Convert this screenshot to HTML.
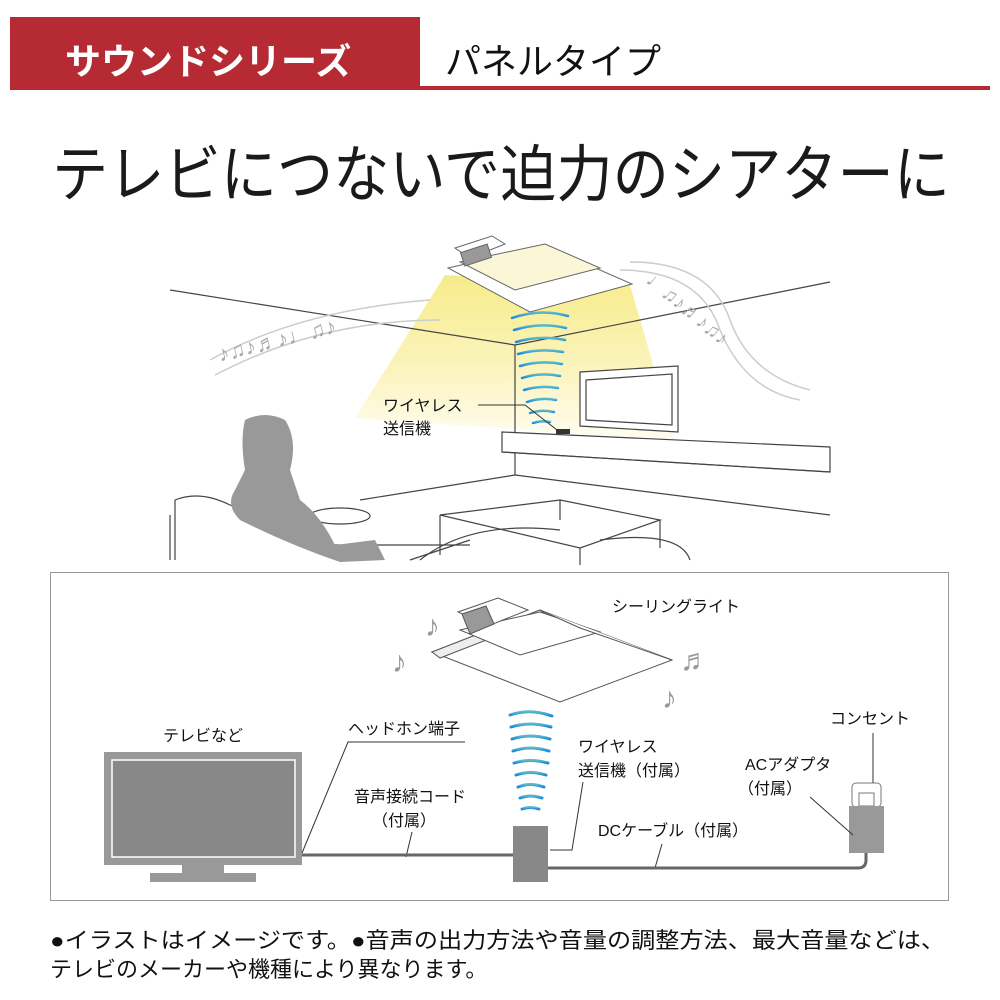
<!DOCTYPE html>
<html><head><meta charset="utf-8"><style>
html,body{margin:0;padding:0;background:#fff;}
body{width:1000px;height:1000px;position:relative;overflow:hidden;font-family:"Liberation Sans","Noto Sans CJK JP",sans-serif;}
</style></head><body>
<svg width="1000" height="1000" viewBox="0 0 1000 1000" xmlns="http://www.w3.org/2000/svg" style="position:absolute;left:0;top:0;font-family:'Liberation Sans','Noto Sans CJK JP',sans-serif">
<defs>
<linearGradient id="cone" x1="0" y1="0" x2="0" y2="1">
<stop offset="0" stop-color="#f7ec8a"/><stop offset="0.6" stop-color="#fbf4c0"/><stop offset="1" stop-color="#fffdf2"/>
</linearGradient>
<linearGradient id="wv" x1="0" y1="0" x2="0" y2="1">
<stop offset="0" stop-color="#5cb8c8"/><stop offset="1" stop-color="#1a8be0"/>
</linearGradient>
</defs>
<!-- header -->
<rect x="10" y="17" width="410" height="73" fill="#b52a33"/>
<rect x="420" y="86" width="570" height="4" fill="#b52a33"/>
<text x="65" y="74" font-size="36" fill="#fff" font-weight="bold">サウンドシリーズ</text>
<text x="445" y="74" font-size="36" fill="#111">パネルタイプ</text>
<text x="52" y="196" font-size="62" fill="#1a1a1a" textLength="898" lengthAdjust="spacingAndGlyphs">テレビにつないで迫力のシアターに</text>

<!-- room scene -->
<polygon points="445,275 630,285 675,440 355,418" fill="url(#cone)"/>
<g stroke="#444" stroke-width="1.2" fill="none">
<line x1="170" y1="290" x2="515" y2="345"/>
<line x1="515" y1="345" x2="830" y2="282"/>
<line x1="515" y1="345" x2="515" y2="475"/>
<polygon points="502,432 830,447 830,472 502,452" fill="#fff"/>
<line x1="502" y1="452" x2="830" y2="472"/>
<line x1="515" y1="475" x2="360" y2="500"/>
<line x1="515" y1="475" x2="830" y2="515"/>
<polygon points="580,372 678,366 678,432 580,426" fill="#fff"/>
<polygon points="586,380 672,374 672,425 586,420"/>
<polygon points="440,515 560,500 660,520 580,548" fill="#fff"/>
<path d="M440,515 L440,555 M580,548 L580,565 M660,520 L660,548 M560,500 L560,520"/>
<ellipse cx="340" cy="516" rx="30" ry="8" fill="#fff"/>
<path d="M175,500 Q200,490 230,505 L360,560 M170,515 L170,560 M175,500 L175,560 M330,545 L470,545 M410,560 L470,540"/>
<path d="M420,560 Q470,520 560,530 M600,540 Q680,530 690,560"/>
</g>
<path d="M245,420 Q265,410 285,420 Q298,440 290,470 L300,500 Q320,515 335,545 L375,540 L385,560 L340,562 Q290,545 240,520 Q225,505 235,490 L245,470 Q240,440 245,420Z" fill="#999"/>
<!-- ceiling light top -->
<g stroke="#666" stroke-width="1" fill="#fff">
<polygon points="448,268 545,246 632,284 530,312"/>
<polygon points="460,262 545,244 600,268 515,290" fill="#fbf6d6"/>
<polygon points="455,248 492,236 505,244 470,258" fill="#fff"/>
<rect x="462" y="248" width="28" height="14" fill="#999" transform="rotate(-18 476 255)"/>
</g>
<!-- waves top -->
<g fill="none" stroke="url(#wv)" stroke-width="2.5" stroke-linecap="round">
<path d="M512,318 Q540,308 568,316"/><path d="M514,330 Q540,322 566,328"/>
<path d="M516,342 Q540,335 565,340"/><path d="M518,354 Q540,348 563,352"/>
<path d="M520,366 Q540,360 562,364"/><path d="M522,378 Q540,372 560,376"/>
<path d="M524,390 Q540,385 558,388"/><path d="M527,402 Q541,397 556,400"/>
<path d="M530,413 Q542,409 554,412"/><path d="M533,423 Q542,420 550,422"/>
</g>
<rect x="556" y="429" width="14" height="5" fill="#333"/>
<text x="383" y="411" font-size="16" fill="#111">ワイヤレス</text>
<text x="383" y="434" font-size="16" fill="#111">送信機</text>
<polyline points="478,405 525,405 557,430" fill="none" stroke="#333" stroke-width="1"/>
<!-- music arcs -->
<g fill="none" stroke="#ccc" stroke-width="1.5">
<path d="M215,375 Q320,320 440,320"/>
<path d="M210,360 Q300,310 430,300"/>
<path d="M620,270 Q700,270 720,330 Q745,390 800,400"/>
<path d="M630,262 Q710,262 730,320 Q750,375 810,390"/>
</g>
<text x="220" y="362" font-size="22" fill="#aaa" transform="rotate(-14 220 362)">♪♫♪♬♪♩♫♪</text>
<text x="645" y="282" font-size="20" fill="#aaa" transform="rotate(40 645 282)">♩♫♪♬♪♫♪</text>

<!-- diagram box -->
<rect x="50.5" y="572.5" width="898" height="328" fill="#fff" stroke="#999" stroke-width="1"/>
<g stroke="#555" stroke-width="1" fill="#fff">
<polygon points="432,652 540,610 672,660 560,702"/>
<polygon points="432,652 540,610 548,616 440,658" fill="#eee"/>
<polygon points="460,630 540,612 600,632 520,655" />
<polygon points="458,612 498,598 528,610 488,626"/>
<polygon points="462,614 486,606 494,624 470,634" fill="#999"/>
<polyline points="540,610 580,628 672,660"/>
</g>
<g font-size="30" fill="#999">
<text x="392" y="672">♪</text><text x="425" y="636">♪</text>
<text x="680" y="670">♬</text><text x="662" y="708">♪</text>
</g>
<text x="612" y="612" font-size="16" fill="#111">シーリングライト</text>
<!-- TV -->
<text x="163" y="741" font-size="16" fill="#111">テレビなど</text>
<rect x="104" y="752" width="198" height="113" fill="#999"/>
<rect x="112" y="760" width="183" height="97" fill="#888" stroke="#fff" stroke-width="1.5"/>
<rect x="182" y="865" width="42" height="9" fill="#999"/>
<rect x="150" y="873" width="106" height="9" fill="#999"/>
<text x="348" y="734" font-size="16" fill="#111">ヘッドホン端子</text>
<polyline points="465,742 348,742 302,853" fill="none" stroke="#333" stroke-width="1"/>
<text x="354" y="802" font-size="16" fill="#111">音声接続コード</text>
<text x="372" y="826" font-size="16" fill="#111">（付属）</text>
<line x1="412" y1="832" x2="406" y2="857" stroke="#333" stroke-width="1"/>
<line x1="302" y1="855" x2="514" y2="855" stroke="#666" stroke-width="3"/>
<!-- waves diagram -->
<g fill="none" stroke="url(#wv)" stroke-width="3" stroke-linecap="round">
<path d="M510,715 Q530,708 552,716"/><path d="M511,727 Q530,721 551,727"/>
<path d="M512,739 Q530,733 550,739"/><path d="M513,751 Q530,745 549,751"/>
<path d="M514,763 Q530,758 548,763"/><path d="M516,775 Q530,770 546,775"/>
<path d="M518,787 Q530,782 544,787"/><path d="M520,798 Q530,794 542,798"/>
<path d="M522,809 Q530,806 539,809"/>
</g>
<rect x="513" y="826" width="35" height="56" fill="#888"/>
<text x="578" y="752" font-size="16" fill="#111">ワイヤレス</text>
<text x="578" y="776" font-size="16" fill="#111">送信機（付属）</text>
<polyline points="583,782 572,850 550,850" fill="none" stroke="#333" stroke-width="1"/>
<text x="598" y="836" font-size="16" fill="#111">DCケーブル（付属）</text>
<line x1="662" y1="844" x2="655" y2="868" stroke="#333" stroke-width="1"/>
<path d="M548,868 L858,868 Q866,868 866,860 L866,853" fill="none" stroke="#666" stroke-width="3"/>
<!-- adapter -->
<text x="830" y="724" font-size="16" fill="#111">コンセント</text>
<line x1="873" y1="733" x2="873" y2="789" stroke="#333" stroke-width="1"/>
<rect x="852" y="783" width="29" height="24" rx="4" fill="#fff" stroke="#777" stroke-width="1"/>
<rect x="859" y="793" width="15" height="13" fill="#fff" stroke="#777" stroke-width="1"/>
<rect x="849" y="806" width="35" height="47" fill="#999"/>
<text x="745" y="770" font-size="16" fill="#111">ACアダプタ</text>
<text x="738" y="794" font-size="16" fill="#111">（付属）</text>
<line x1="810" y1="797" x2="853" y2="835" stroke="#333" stroke-width="1"/>
<!-- footer -->
<text x="50" y="948" font-size="22" fill="#111" textLength="895" lengthAdjust="spacingAndGlyphs">●イラストはイメージです。●音声の出力方法や音量の調整方法、最大音量などは、</text>
<text x="50" y="977" font-size="22" fill="#111">テレビのメーカーや機種により異なります。</text>
</svg>
</body></html>
